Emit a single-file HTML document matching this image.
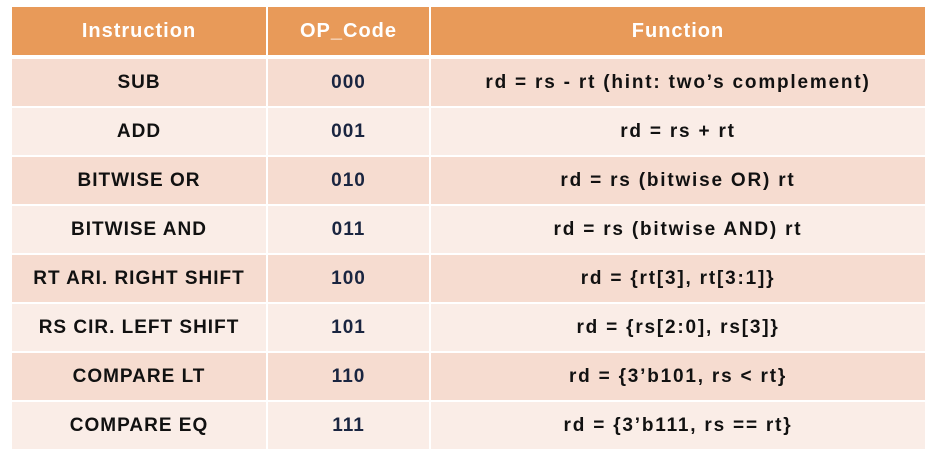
<!DOCTYPE html>
<html><head><style>
body{margin:0;background:#fff;width:942px;height:458px;overflow:hidden;font-family:"Liberation Sans",sans-serif;}
table{position:absolute;left:12px;top:7px;border-collapse:separate;border-spacing:0;}
td{border-right:2px solid #fff;border-bottom:2px solid #fff;text-align:center;font-weight:bold;font-size:19px;color:#111;padding:0;letter-spacing:1px;}
td:last-child{border-right:none;}
td.f{letter-spacing:1.8px;}
tr.h td{background:#E89A59;color:#fff;height:48px;border-bottom:4px solid #fff;font-size:20px;}
tr.o td{background:#F6DCD0;height:47px;}
tr.e td{background:#FAEDE7;height:47px;}
td.c{color:#1a2540;}
</style></head><body>
<table>
<colgroup><col style="width:256px"><col style="width:163px"><col style="width:494px"></colgroup>
<tr class="h"><td>Instruction</td><td>OP_Code</td><td>Function</td></tr>
<tr class="o"><td>SUB</td><td class="c">000</td><td class="f">rd = rs - rt (hint: two’s complement)</td></tr>
<tr class="e"><td>ADD</td><td class="c">001</td><td class="f">rd = rs + rt</td></tr>
<tr class="o"><td>BITWISE OR</td><td class="c">010</td><td class="f">rd = rs (bitwise OR) rt</td></tr>
<tr class="e"><td>BITWISE AND</td><td class="c">011</td><td class="f">rd = rs (bitwise AND) rt</td></tr>
<tr class="o"><td>RT ARI. RIGHT SHIFT</td><td class="c">100</td><td class="f">rd = {rt[3], rt[3:1]}</td></tr>
<tr class="e"><td>RS CIR. LEFT SHIFT</td><td class="c">101</td><td class="f">rd = {rs[2:0], rs[3]}</td></tr>
<tr class="o"><td>COMPARE LT</td><td class="c">110</td><td class="f">rd = {3’b101, rs &lt; rt}</td></tr>
<tr class="e"><td>COMPARE EQ</td><td class="c">111</td><td class="f">rd = {3’b111, rs == rt}</td></tr>
</table>
</body></html>
